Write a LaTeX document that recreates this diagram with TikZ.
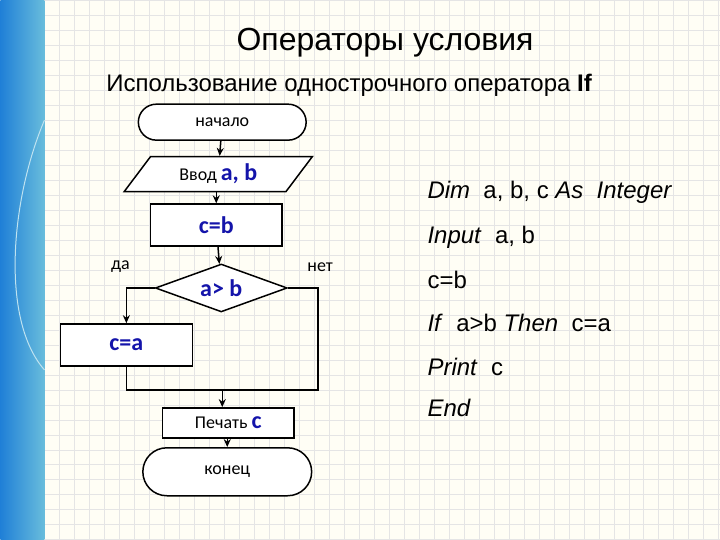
\documentclass[tikz,border=0pt]{standalone}
\usepackage{fontspec}
\setmainfont{Liberation Sans}
\newfontfamily\calfont{Carlito}
\usetikzlibrary{shapes.geometric,arrows.meta}
\definecolor{dblue}{RGB}{20,20,170}
\definecolor{stripe}{RGB}{40,160,205}
\tikzset{
  box/.style={draw,line width=1.5pt,fill=white},
  flow/.style={line width=1.5pt,-{Stealth[length=8pt,width=7pt]}},
  wire/.style={line width=1.5pt},
  lab/.style={font=\calfont\fontsize{18}{20}\selectfont},
  code/.style={anchor=west,font=\fontsize{24}{28}\selectfont},
}
\newcommand{\bl}[1]{\textcolor{dblue}{\bfseries\fontsize{24}{26}\selectfont #1}}
\begin{document}
\begin{tikzpicture}[x=1pt,y=-1pt]
\fill[white!96!yellow] (0,0) rectangle (720,540);
\foreach \i in {0,...,45} {\draw[black!10,line width=0.6pt] (44+15*\i,0) -- (44+15*\i,540);}
\foreach \i in {0,...,36} {\draw[black!10,line width=0.6pt] (44,15*\i) -- (720,15*\i);}
\shade[left color=stripe!80!blue,right color=stripe!70!white] (0,0) rectangle (44,540);
\draw[white!70!stripe,line width=1pt] (44,120) .. controls (10,200) and (0,320) .. (44,370);
% titles
\node[font=\fontsize{32}{36}\selectfont] (t) at (385,42) {Операторы условия};
\node[font=\fontsize{24}{28}\selectfont] (s) at (349,85) {Использование однострочного оператора \textbf{If}};
% flowchart
\node[box,rounded corners=18pt,minimum width=168pt,minimum height=36pt,lab] (n1) at (222,122) {начало};
\node[box,trapezium,trapezium left angle=53,trapezium right angle=127,minimum width=150pt,minimum height=35pt,inner sep=0pt,lab] (n2) at (218,174) {Ввод \bl{a, b}};
\node[box,minimum width=132pt,minimum height=42pt,lab] (n3) at (216,225) {\bl{c=b}};
\node[box,diamond,aspect=2.75,minimum width=132pt,minimum height=48pt,inner sep=0pt,lab] (n4) at (221,288) {\bl{a> b}};
\node[box,minimum width=132pt,minimum height=42pt,lab] (n5) at (126,345) {\bl{c=a}};
\node[box,minimum width=132pt,minimum height=30pt,inner sep=0pt,lab] (n6) at (228,423) {Печать \bl{c}};
\node[box,rounded corners=24pt,minimum width=169pt,minimum height=48pt,lab] (n7) at (227,472) {конец};
\node[lab] (da) at (120,267) {да};
\node[lab] (net) at (320,267) {нет};
\coordinate (j) at (222,390);
\draw[flow] (n1) -- (n2);
\draw[flow] (n2.south -| n3.north) -- (n3);
\draw[flow] (n3) -- (n4);
\draw[flow] (n4.west) -| (n5.north);
\draw[wire] (n5.south) |- (j);
\draw[wire] (n4.east) -| (318,390) -- (j);
\draw[flow] (j) -- (j |- n6.north);
\draw[flow] (n6.south -| n7.north) -- (n7);
% code
\node[code] (c1) at (424,192) {\textit{Dim} \ a, b, c \textit{As} \ \textit{Integer}};
\node[code] (c2) at (424,237) {\textit{Input} \ a, b};
\node[code] (c3) at (424,280) {c=b};
\node[code] (c4) at (424,323) {\textit{If} \ a>b \textit{Then} \ c=a};
\node[code] (c5) at (424,367) {\textit{Print} \ c};
\node[code] (c6) at (424,408) {\textit{End}};
\end{tikzpicture}
\end{document}
